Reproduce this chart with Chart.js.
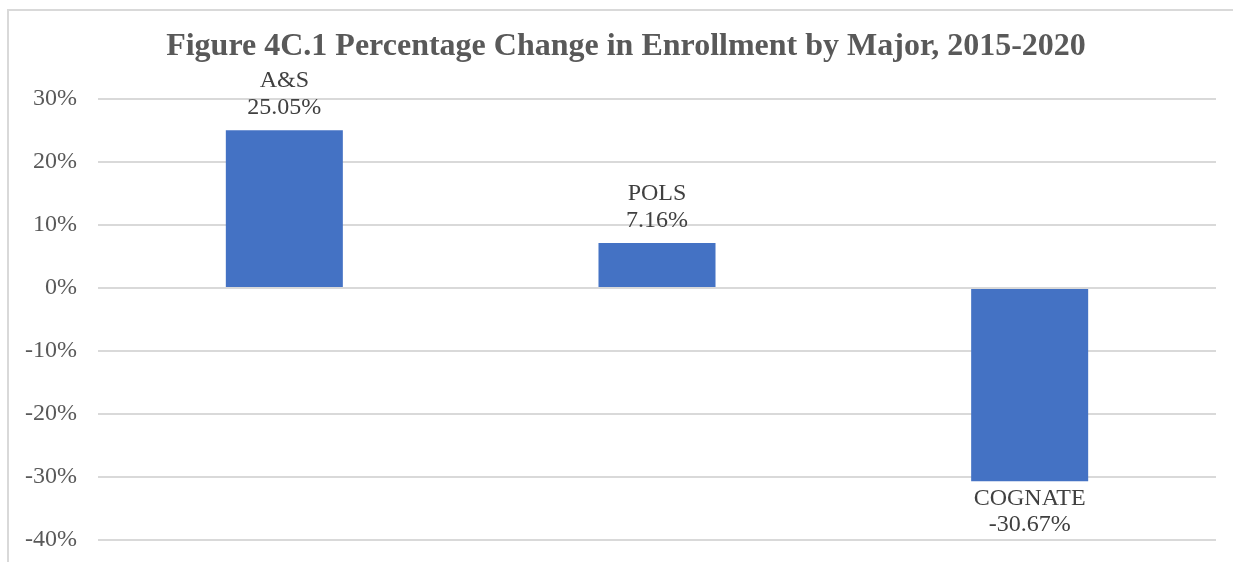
<!DOCTYPE html>
<html>
<head>
<meta charset="utf-8">
<script src="https://cdn.jsdelivr.net/npm/chart.js@4"></script>
<style>
html,body{margin:0;padding:0;background:#fff;overflow:hidden;}
#frame{position:absolute;left:7px;top:9px;width:1400px;height:700px;border-left:2px solid #d9d9d9;border-top:2px solid #d9d9d9;}
#wrap{position:absolute;left:0;top:0;width:1233px;height:562px;}
</style>
</head>
<body>
<div id="frame"></div>
<div id="wrap"><canvas id="c" width="1233" height="562"></canvas></div>
<script>
const categories = ["A&S", "POLS", "COGNATE"];
const values = [25.05, 7.16, -30.67];
const yTicks = [30, 20, 10, 0, -10, -20, -30, -40];
const titleText = "Figure 4C.1 Percentage Change in Enrollment by Major, 2015-2020";

const SERIF = "'Liberation Serif', 'Times New Roman', serif";

const titlePlugin = {
  id: 'customTitle',
  afterDraw(chart) {
    const ctx = chart.ctx;
    ctx.save();
    ctx.font = "bold 32px " + SERIF;
    ctx.fillStyle = "#595959";
    ctx.textAlign = "center";
    ctx.textBaseline = "alphabetic";
    ctx.fillText(titleText, 626, 55);
    ctx.restore();
  }
};

const labelPlugin = {
  id: 'barLabels',
  afterDatasetsDraw(chart) {
    const ctx = chart.ctx;
    const meta = chart.getDatasetMeta(0);
    ctx.save();
    ctx.font = "24px " + SERIF;
    ctx.fillStyle = "#404040";
    ctx.textAlign = "center";
    ctx.textBaseline = "alphabetic";
    meta.data.forEach((bar, i) => {
      const v = values[i];
      const txt = v.toFixed(2) + "%";
      if (v >= 0) {
        ctx.fillText(categories[i], bar.x, bar.y - 43);
        ctx.fillText(txt, bar.x, bar.y - 16);
      } else {
        ctx.fillText(categories[i], bar.x, bar.y + 24);
        ctx.fillText(txt, bar.x, bar.y + 50);
      }
    });
    ctx.restore();
  }
};

new Chart(document.getElementById('c'), {
  type: 'bar',
  data: {
    labels: categories,
    datasets: [{
      data: values,
      backgroundColor: '#4472C4',
      borderWidth: 0,
      categoryPercentage: 1,
      barPercentage: 0.314
    }]
  },
  options: {
    responsive: false,
    animation: false,
    devicePixelRatio: 1,
    layout: { padding: { top: 99, left: 0, right: 17, bottom: 22 } },
    plugins: {
      legend: { display: false },
      tooltip: { enabled: false },
      title: { display: false }
    },
    scales: {
      x: { display: false },
      y: {
        min: Math.min(...yTicks),
        max: Math.max(...yTicks),
        afterFit(scale) { scale.width = 98; scale.paddingTop = 0; scale.paddingBottom = 0; },
        afterBuildTicks(scale) { scale.ticks = yTicks.map(v => ({ value: v })); },
        border: { display: false },
        grid: { color: '#d9d9d9', lineWidth: 2, drawTicks: false },
        ticks: {
          padding: 21,
          color: '#595959',
          font: { family: SERIF, size: 24 },
          callback: v => v + '%'
        }
      }
    }
  },
  plugins: [labelPlugin, titlePlugin]
});
</script>
</body>
</html>
